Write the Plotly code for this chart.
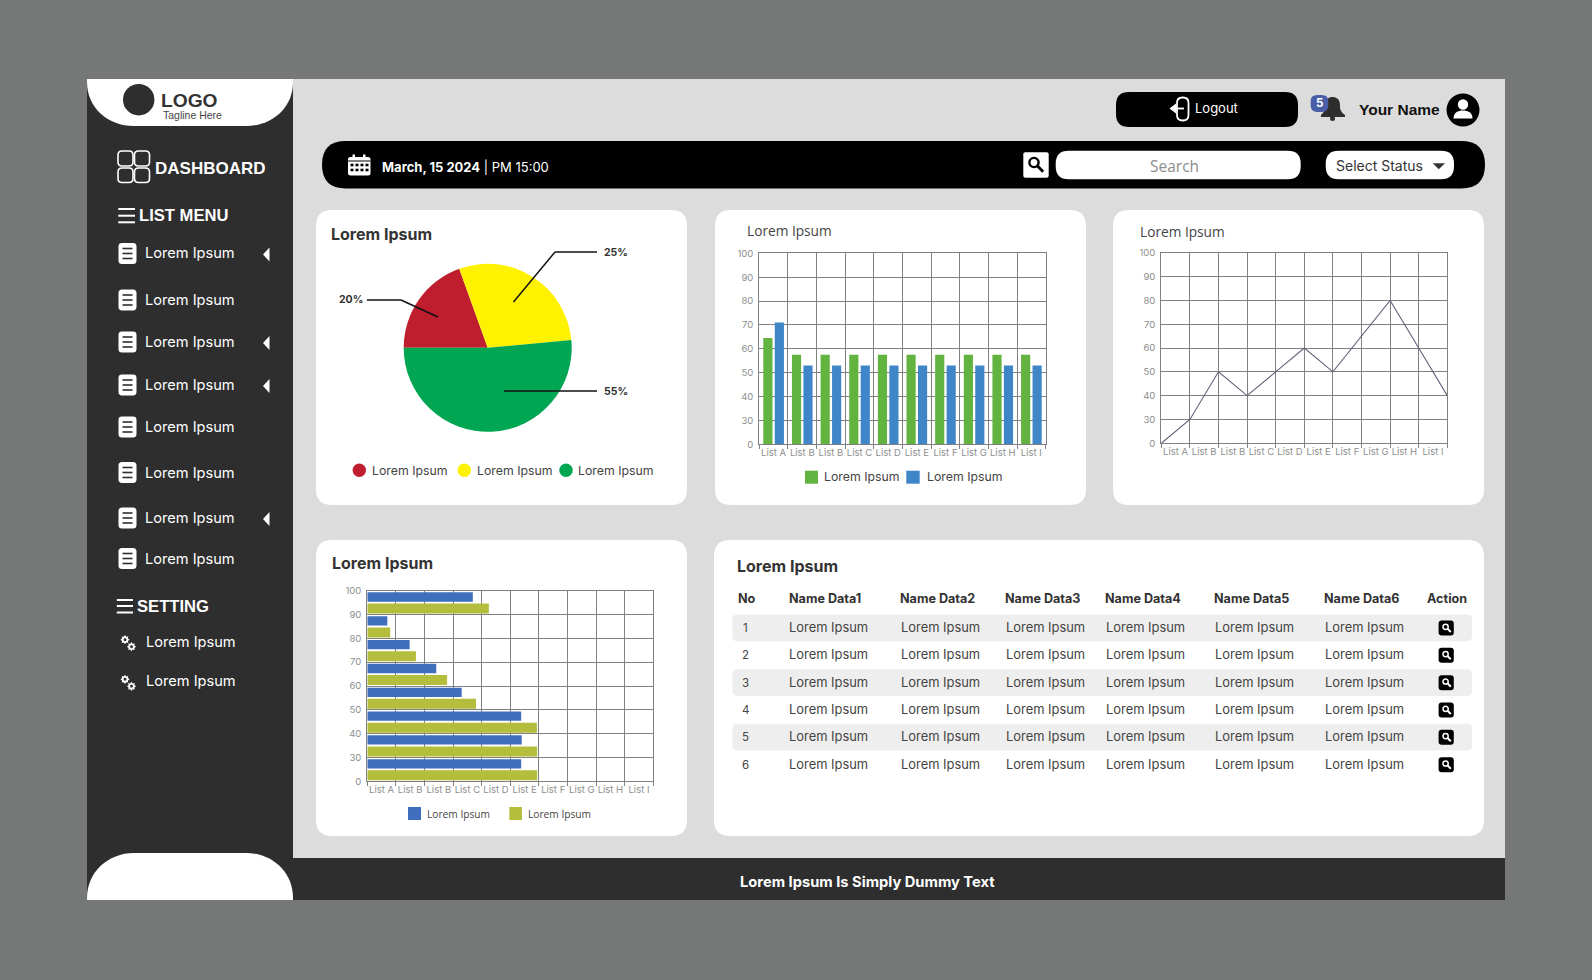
import re
import numpy as np
import plotly.graph_objs as go

W = 1592
H = 980

# chart values
pie_labels = ['Lorem Ipsum', 'Lorem Ipsum', 'Lorem Ipsum']
pie_values = [19.5, 29, 51.5]
pie_colors = ['#BE1E2D', '#FFF200', '#00A651']
pie_percent = ['20%', '25%', '55%']

list_labels = ['List A', 'List B', 'List B', 'List C', 'List D', 'List E', 'List F', 'List G', 'List H', 'List I']
y_tick_values = [0, 30, 40, 50, 60, 70, 80, 90, 100]

bar_green = [64.5, 57.5, 57.5, 57.5, 57.5, 57.5, 57.5, 57.5, 57.5, 57.5]
bar_blue = [71, 53, 53, 53, 53, 53, 53, 53, 53, 53]

line_values = [0, 30, 50, 40, 50, 60, 50, 65, 80, 60, 40]

# horizontal chart, top row first, lengths in list columns
hbar_blue = [3.69, 0.70, 1.48, 2.41, 3.30, 5.38, 5.40, 5.38]
hbar_olive = [4.25, 0.80, 1.70, 2.79, 3.80, 5.93, 5.94, 5.94]

table_head = ['No', 'Name Data1', 'Name Data2', 'Name Data3', 'Name Data4', 'Name Data5', 'Name Data6', 'Action']
table_no = ['1', '2', '3', '4', '5', '6']
table_cell = 'Lorem Ipsum'

menu_items = ['Lorem Ipsum'] * 8
menu_arrow = [True, False, True, True, False, False, True, False]
setting_items = ['Lorem Ipsum', 'Lorem Ipsum']

DARK = '#2e2e2e'
GRID = '#808080'
TICK = '#8e8e8e'
FONT = 'Inter'
ARIAL = 'Liberation Sans'
OPEN = 'Open Sans'


def px(x):
    return x / W


def py(y):
    return 1 - y / H


def to_paper(d):
    return re.sub(r'(-?[\d.]+),(-?[\d.]+)',
                  lambda m: '%.5f,%.5f' % (px(float(m.group(1))), py(float(m.group(2)))), d)


shapes = []
annotations = []


def path(d, fill=None, line=None, lw=0, layer='below'):
    shapes.append(dict(type='path', path=to_paper(d), xref='paper', yref='paper', layer=layer,
                       fillcolor=fill if fill else 'rgba(0,0,0,0)',
                       line=dict(color=line if line else 'rgba(0,0,0,0)', width=lw)))


def rrect(x0, y0, x1, y1, r, fill=None, line=None, lw=0, layer='below'):
    d = ('M%s,%s L%s,%s Q%s,%s %s,%s L%s,%s Q%s,%s %s,%s L%s,%s Q%s,%s %s,%s L%s,%s Q%s,%s %s,%s Z' % (
        x0 + r, y0, x1 - r, y0, x1, y0, x1, y0 + r, x1, y1 - r, x1, y1, x1 - r, y1,
        x0 + r, y1, x0, y1, x0, y1 - r, x0, y0 + r, x0, y0, x0 + r, y0))
    path(d, fill, line, lw, layer)


def rect(x0, y0, x1, y1, fill, layer='below'):
    shapes.append(dict(type='rect', xref='paper', yref='paper', layer=layer, x0=px(x0), x1=px(x1),
                       y0=py(y1), y1=py(y0), fillcolor=fill, line=dict(width=0)))


def circle(cx, cy, r, fill, line=None, lw=0, layer='below'):
    shapes.append(dict(type='circle', xref='paper', yref='paper', layer=layer,
                       x0=px(cx - r), x1=px(cx + r), y0=py(cy + r), y1=py(cy - r),
                       fillcolor=fill, line=dict(color=line if line else 'rgba(0,0,0,0)', width=lw)))


def seg(x0, y0, x1, y1, color, lw=1.5, layer='below'):
    shapes.append(dict(type='line', xref='paper', yref='paper', layer=layer,
                       x0=px(x0), x1=px(x1), y0=py(y0), y1=py(y1), line=dict(color=color, width=lw)))


def text(x, y, s, size, color, family=FONT, anchor='left'):
    annotations.append(dict(x=px(x), y=py(y), xref='paper', yref='paper', text=s, showarrow=False,
                            xanchor=anchor, yanchor='middle', borderpad=0, borderwidth=0,
                            font=dict(size=size, color=color, family=family)))


def gear(cx, cy, r):
    pts = []
    for i in range(16):
        a = i * np.pi / 8
        rr = r if i % 2 == 0 else r * 0.68
        pts.append('%.2f,%.2f' % (cx + rr * np.cos(a), cy + rr * np.sin(a)))
    path('M' + ' L'.join(pts) + ' Z', fill='white')
    circle(cx, cy, r * 0.32, DARK)


def magnifier(cx, cy, r, color, lw):
    circle(cx, cy, r, 'rgba(0,0,0,0)', color, lw)
    seg(cx + r * 0.7, cy + r * 0.7, cx + r * 2.0, cy + r * 2.0, color, lw + 0.5)


# page frame
rect(0, 0, W, H, '#767877')
rect(87, 79, 1505, 900, '#dcdcdc')
rect(87, 79, 293, 900, DARK)
rect(293, 858, 1505, 900, DARK)
text(867, 882, '<b>Lorem Ipsum Is Simply Dummy Text</b>', 14.7, 'white', anchor='center')

# sidebar caps and logo
path('M87,79 L293,79 L293,82 C293,108 272,126 246,126 L134,126 C108,126 87,108 87,82 Z', fill='white')
path('M87,900 L87,898 C87,872 108,853 134,853 L246,853 C272,853 293,872 293,898 L293,900 Z', fill='white')
circle(138.7, 99.7, 15.7, DARK)
text(161, 100.7, '<b>LOGO</b>', 19.2, '#333333', ARIAL)
text(162.5, 115, 'Tagline Here', 10.5, '#444444', ARIAL)

# dashboard heading
for bx0, by0, bx1, by1 in [(118, 151, 133, 166), (134.5, 151, 149.5, 166),
                           (118, 168, 133, 182.5), (134.5, 168, 149.5, 182.5)]:
    rrect(bx0, by0, bx1, by1, 4, line='white', lw=1.6)
text(155, 168, '<b>DASHBOARD</b>', 17, 'white', ARIAL)

for hy in (209, 215.7, 222.3):
    seg(118.3, hy, 135, hy, 'white', 2)
text(138.5, 215.5, '<b>LIST MENU</b>', 16.6, 'white', ARIAL)

menu_y = [253.5, 300, 342, 385, 427, 472.5, 518, 558.5]
for name, my, has_arrow in zip(menu_items, menu_y, menu_arrow):
    rrect(118.5, my - 10.5, 136.5, my + 10.5, 3.5, fill='white')
    for dy in (-5, 0, 5):
        seg(122.5, my + dy, 132.5, my + dy, DARK, 1.6)
    text(144.5, my, name, 14.6, 'white')
    if has_arrow:
        path('M263,%s L269.5,%s L269.5,%s Z' % (my + 1, my - 6, my + 8), fill='white')

for hy in (600, 606, 612.5):
    seg(116.8, hy, 133, hy, 'white', 2)
text(136.5, 606, '<b>SETTING</b>', 16.6, 'white', ARIAL)

for name, sy in zip(setting_items, [641.7, 681.3]):
    gear(125, sy - 2, 4.6)
    gear(131.5, sy + 5, 4.6)
    text(145.5, sy, name, 14.6, 'white')

# top right controls
rrect(1116, 92, 1298, 127, 13, fill='black')
rrect(1177, 97.5, 1188.5, 120.5, 5.5, line='white', lw=1.8)
seg(1174, 108.5, 1184, 108.5, 'white', 1.8)
path('M1169.5,108.5 L1176,103.5 L1176,113.5 Z', fill='white')
text(1195, 108, 'Logout', 13, 'white')

path('M1321,115 C1325,112 1325,108 1325,105 C1325,99 1329,97 1332.5,97 '
     'C1336,97 1340,99 1340,105 C1340,108 1340,112 1345,115 L1345,117 L1321,117 Z', fill=DARK)
circle(1332.5, 118.5, 2.5, DARK)
rrect(1310.7, 95, 1328.3, 112, 6.5, fill='#4a5ea8')
text(1319.5, 103.5, '<b>5</b>', 11.5, 'white', anchor='center')
text(1359, 109, '<b>Your Name</b>', 15.5, '#111111', ARIAL)
circle(1463, 110, 16.5, 'black')
circle(1463, 104.5, 5.2, 'white')
path('M1453.5,118.5 C1453.5,112.5 1458,110.5 1463,110.5 C1468,110.5 1472.5,112.5 1472.5,118.5 Z', fill='white')

# date and search bar
rrect(322, 141, 1485, 188.5, 23.7, fill='black')
rrect(348, 157, 370.5, 175.5, 2.5, fill='white')
rect(352.5, 154.5, 355, 159, 'white')
rect(363, 154.5, 365.5, 159, 'white')
seg(348, 161, 370.5, 161, 'black', 1)
for cy in (165, 170):
    for cx in (352, 357, 362, 367):
        rect(cx - 1.5, cy - 1.3, cx + 1.5, cy + 1.3, 'black')
text(381.5, 167, '<b>March, 15 2024</b> | PM 15:00', 13, 'white')

rrect(1023.3, 152.3, 1048.7, 177.7, 2, fill='white')
magnifier(1034, 162.5, 4.6, 'black', 2.4)
rrect(1055.7, 150.7, 1300.7, 179.3, 13, fill='white')
text(1174, 166, 'Search', 15.5, '#8c8c8c', OPEN, anchor='center')
rrect(1325.7, 150.7, 1454, 179.3, 13, fill='white')
text(1336, 165.3, 'Select Status', 14, '#333333')
path('M1432.7,163.3 L1445,163.3 L1438.8,169.3 Z', fill='#333333')

# cards
rrect(316, 210, 687, 505, 16, fill='white')
rrect(715, 210, 1086, 505, 16, fill='white')
rrect(1113, 210, 1484, 505, 16, fill='white')
rrect(316, 540, 687, 836, 16, fill='white')
rrect(714, 540, 1484, 836, 16, fill='white')

text(330.5, 233.5, '<b>Lorem Ipsum</b>', 16, '#333333')
text(747, 230, 'Lorem Ipsum', 13.7, '#444444', OPEN)
text(1140, 231.5, 'Lorem Ipsum', 13.7, '#444444', OPEN)
text(332, 563, '<b>Lorem Ipsum</b>', 16, '#333333')
text(736.5, 565.5, '<b>Lorem Ipsum</b>', 16, '#333333')

# pie callouts and legend
seg(367, 300, 401, 300, '#111111', layer='above')
seg(401, 300, 438, 317, '#111111', layer='above')
seg(513.5, 302, 555, 252, '#111111', layer='above')
seg(555, 252, 597, 252, '#111111', layer='above')
seg(504, 391, 597, 391, '#111111', layer='above')
text(339, 299.5, '<b>%s</b>' % pie_percent[0], 10.5, '#333333')
text(604, 252.5, '<b>%s</b>' % pie_percent[1], 10.5, '#333333')
text(604, 391, '<b>%s</b>' % pie_percent[2], 10.5, '#333333')
for cx, tx, name, color in zip([359.3, 464.3, 566], [372, 476.7, 578.3], pie_labels, pie_colors):
    circle(cx, 470.3, 6.7, color)
    text(tx, 470.5, name, 12.3, '#444444')

# legends of the other charts
rect(805, 470.7, 818, 483.7, '#62B33F')
text(824.3, 477, 'Lorem Ipsum', 12.3, '#444444')
rect(906.3, 470.7, 919.7, 483.7, '#3F86C8')
text(926.7, 477, 'Lorem Ipsum', 12.3, '#444444')
rect(408, 807, 421, 820, '#3F6FBC')
text(426.7, 813.5, 'Lorem Ipsum', 10.2, '#444444', OPEN)
rect(509.3, 807, 522, 820, '#B5BD3C')
text(527.7, 813.5, 'Lorem Ipsum', 10.2, '#444444', OPEN)

# table
head_x = [738, 788.6, 900.3, 1005, 1105.4, 1214, 1323.8, 1426.8]
cell_x = [788.6, 900.8, 1006, 1106.4, 1214.6, 1324.8]
row_y = [628, 655.3, 682.7, 710, 737.3, 764.7]
for name, hx in zip(table_head, head_x):
    text(hx, 598, '<b>%s</b>' % name, 12.6, '#333333')
for i, (no, ry) in enumerate(zip(table_no, row_y)):
    if i % 2 == 0:
        rrect(732.4, ry - 13.5, 1472, ry + 13.3, 5, fill='#eeeeee')
    text(745, ry, no, 11.5, '#444444', anchor='center')
    for cx in cell_x:
        text(cx, ry - 0.5, table_cell, 12.9, '#444444')
    rrect(1438.6, ry - 7.5, 1453.8, ry + 7.5, 3, fill='black')
    magnifier(1445.6, ry - 1.2, 2.6, 'white', 1.5)


def to_axis(values):
    return np.interp(values, y_tick_values, np.arange(len(y_tick_values)))


pie = go.Pie(values=pie_values, sort=False, direction='clockwise', rotation=270,
             marker=dict(colors=pie_colors, line=dict(width=0)), textinfo='none', showlegend=False,
             domain=dict(x=[px(403.7), px(571.7)], y=[py(431.8), py(263.8)]))

list_pos = np.arange(10) + 0.5
green = go.Bar(x=list_pos, y=to_axis(bar_green), width=0.32, offset=-0.36, marker=dict(color='#62B33F', line=dict(width=0)),
               xaxis='x', yaxis='y', showlegend=False, name='Lorem Ipsum')
blue = go.Bar(x=list_pos, y=to_axis(bar_blue), width=0.32, offset=0.04, marker=dict(color='#3F86C8', line=dict(width=0)),
              xaxis='x', yaxis='y', showlegend=False, name='Lorem Ipsum')

line = go.Scatter(x=np.arange(11), y=to_axis(line_values), mode='lines', line=dict(color='#5f6178', width=1.1),
                  xaxis='x2', yaxis='y2', showlegend=False, name='Lorem Ipsum')

row_pos = np.arange(7, -1, -1) + 0.5
hblue = go.Bar(y=row_pos, x=hbar_blue, orientation='h', width=0.39, offset=0.04,
               marker=dict(color='#3F6FBC', line=dict(width=0)), xaxis='x3', yaxis='y3', showlegend=False, name='Lorem Ipsum')
holive = go.Bar(y=row_pos, x=hbar_olive, orientation='h', width=0.42, offset=-0.46,
                marker=dict(color='#B5BD3C', line=dict(width=0)), xaxis='x3', yaxis='y3', showlegend=False, name='Lorem Ipsum')


def list_axis(x0, x1, anchor):
    return dict(domain=[px(x0), px(x1)], anchor=anchor, range=[0, 10], tickmode='array',
                tickvals=list_pos.tolist(), ticktext=list_labels, showgrid=False, zeroline=False,
                ticks='outside', ticklen=2, tickcolor='rgba(0,0,0,0)', ticklabelstandoff=-3,
                tickfont=dict(size=9.5, color=TICK, family=FONT),
                showline=True, mirror=True, linecolor=GRID, linewidth=1.2,
                minor=dict(tickmode='array', tickvals=list(range(11)), showgrid=True, gridcolor=GRID, gridwidth=1.2,
                           ticks='outside', ticklen=4, tickcolor=GRID, tickwidth=1))


def value_axis(y0, y1, anchor):
    return dict(domain=[py(y1), py(y0)], anchor=anchor, range=[0, 8], tickmode='array',
                tickvals=list(range(9)), ticktext=[str(v) for v in y_tick_values],
                showgrid=True, gridcolor=GRID, gridwidth=1.2, zeroline=False,
                ticks='outside', ticklen=3, tickcolor='rgba(0,0,0,0)',
                tickfont=dict(size=9.5, color=TICK, family=FONT),
                showline=True, mirror=True, linecolor=GRID, linewidth=1.2)


layout = dict(width=W, height=H, autosize=False, margin=dict(l=0, r=0, t=0, b=0, pad=0, autoexpand=False),
              paper_bgcolor='#767877', plot_bgcolor='rgba(0,0,0,0)',
              barmode='overlay', showlegend=False, hovermode=False,
              font=dict(family=FONT),
              xaxis=list_axis(759.3, 1045.7, 'y'), yaxis=value_axis(253.3, 444.3, 'x'),
              xaxis2=list_axis(1161.3, 1447.3, 'y2'), yaxis2=value_axis(252.7, 443.3, 'x2'),
              xaxis3=list_axis(367.3, 653.3, 'y3'), yaxis3=value_axis(590.7, 781.3, 'x3'),
              shapes=shapes, annotations=annotations)

fig = go.Figure(data=[pie, green, blue, line, hblue, holive], layout=layout)
fig.write_html("out.html", config=dict(displayModeBar=False),
               post_script="document.body.style.margin='0';document.body.style.overflow='hidden';")
